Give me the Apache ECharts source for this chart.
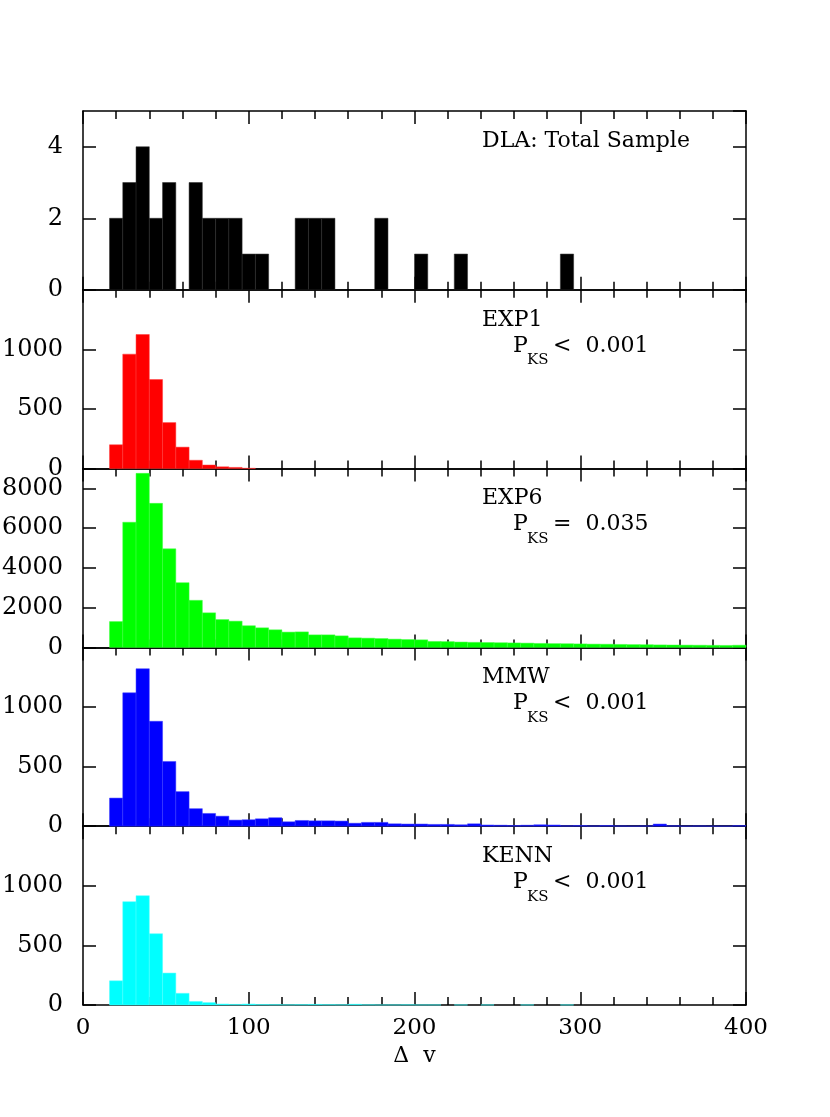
<!DOCTYPE html>
<html>
<head>
<meta charset="utf-8">
<script src="https://cdn.jsdelivr.net/npm/echarts@6/dist/echarts.min.js"></script>
<style>
html, body { margin: 0; padding: 0; background: #fff; }
#chart { width: 830px; height: 1117px; }
</style>
</head>
<body>
<div id="chart"></div>
<script>
// left edge of each 8-wide velocity bin
const binLeft = [16, 24, 32, 40, 48, 56, 64, 72, 80, 88, 96, 104, 112, 120, 128, 136,
  144, 152, 160, 168, 176, 184, 192, 200, 208, 216, 224, 232, 240, 248, 256, 264,
  272, 280, 288, 296, 304, 312, 320, 328, 336, 344, 352, 360, 368, 376, 384, 392];
const binWidth = 8;

const dlaCounts = [2, 3, 4, 2, 3, 0, 3, 2, 2, 2, 1, 1, 0, 0, 2, 2,
  2, 0, 0, 0, 2, 0, 0, 1, 0, 0, 1, 0, 0, 0, 0, 0,
  0, 0, 1, 0, 0, 0, 0, 0, 0, 0, 0, 0, 0, 0, 0, 0];
const exp1Counts = [200, 960, 1125, 747, 386, 180, 70, 30, 15, 10, 3, 0, 0, 0, 0, 0,
  0, 0, 0, 0, 0, 0, 0, 0, 0, 0, 0, 0, 0, 0, 0, 0,
  0, 0, 0, 0, 0, 0, 0, 0, 0, 0, 0, 0, 0, 0, 0, 0];
const exp6Counts = [1300, 6300, 8760, 7250, 4960, 3260, 2370, 1740, 1400, 1320, 1090, 985, 885, 770, 780, 630,
  630, 580, 480, 465, 445, 415, 395, 380, 300, 290, 270, 255, 245, 235, 225, 215,
  200, 190, 185, 175, 165, 160, 150, 140, 135, 125, 120, 115, 110, 105, 100, 110];
const mmwCounts = [236, 1119, 1321, 880, 543, 290, 147, 107, 84, 51, 54, 62, 71, 37, 48, 45,
  45, 43, 25, 32, 32, 20, 18, 18, 15, 15, 12, 20, 10, 8, 6, 8,
  12, 10, 4, 6, 3, 6, 3, 2, 3, 18, 4, 2, 3, 2, 2, 5];
const kennCounts = [203, 867, 917, 598, 268, 98, 30, 20, 8, 5, 8, 4, 3, 2, 3, 5,
  3, 2, 6, 2, 1, 1, 2, 1, 1, 0, 1, 0, 1, 0, 0, 1,
  0, 0, 1, 0, 0, 0, 0, 0, 0, 0, 0, 0, 0, 0, 0, 0];

const xTicks = [0, 100, 200, 300, 400];

const panels = [
  { label: 'DLA: Total Sample', counts: dlaCounts, color: '#000000', edge: '#2a2a2a', yMax: 5, yStep: 2, pks: null },
  { label: 'EXP1', counts: exp1Counts, color: '#ff0000', edge: '#ff3a3a', yMax: 1500, yStep: 500, pks: '<  0.001' },
  { label: 'EXP6', counts: exp6Counts, color: '#00ff00', edge: '#40ff40', yMax: 9000, yStep: 2000, pks: '=  0.035' },
  { label: 'MMW', counts: mmwCounts, color: '#0000ff', edge: '#3a3aff', yMax: 1500, yStep: 500, pks: '<  0.001' },
  { label: 'KENN', counts: kennCounts, color: '#00ffff', edge: '#50ffff', yMax: 1500, yStep: 500, pks: '<  0.001' }
];

const font = 'DejaVu Serif';
const gridLeft = 83, gridWidth = 663, gridTop = 111, panelH = 178.8;
const axisColor = '#000';

let grids = [], xAxes = [], yAxes = [], series = [], graphics = [];

panels.forEach(function (p, i) {
  const top = gridTop + i * panelH;
  grids.push({ left: gridLeft, width: gridWidth, top: top, height: panelH, outerBoundsMode: 'none' });

  // bottom and top x axes (ticks on both sides)
  ['bottom', 'top'].forEach(function (pos) {
    const isLabelled = pos === 'bottom' && i === panels.length - 1;
    xAxes.push({
      type: 'value', gridIndex: i, position: pos, min: xTicks[0], max: xTicks[xTicks.length - 1], interval: 100,
      axisLine: { show: true, onZero: false, lineStyle: { color: axisColor, width: 1.5 } },
      axisTick: { show: true, inside: true, length: 13, lineStyle: { color: axisColor, width: 1.5 } },
      minorTick: { show: true, splitNumber: 5, length: 8, lineStyle: { color: axisColor, width: 1.5 } },
      splitLine: { show: false },
      axisLabel: { show: isLabelled, color: '#000', fontFamily: font, fontSize: 23, margin: 12,
        formatter: function (v) { return String(v); } },
      name: isLabelled ? 'Δ  v' : '',
      nameLocation: 'middle', nameGap: 40,
      nameTextStyle: { color: '#000', fontFamily: font, fontSize: 22 }
    });
  });

  ['left', 'right'].forEach(function (pos) {
    yAxes.push({
      type: 'value', gridIndex: i, position: pos, min: 0, max: p.yMax, interval: p.yStep,
      axisLine: { show: true, onZero: false, lineStyle: { color: axisColor, width: 1.5 } },
      axisTick: { show: true, inside: true, length: 13, lineStyle: { color: axisColor, width: 1.5 } },
      splitLine: { show: false },
      axisLabel: { show: pos === 'left', showMaxLabel: false, color: '#000', fontFamily: font, fontSize: 24, margin: 20,
        formatter: function (v) { return String(v); } }
    });
  });

  series.push({
    type: 'custom',
    xAxisIndex: 2 * i,
    yAxisIndex: 2 * i,
    data: binLeft.map(function (x, k) { return [x, p.counts[k]]; }),
    encode: { x: 0, y: 1 },
    renderItem: function (params, api) {
      const x0 = api.value(0), v = api.value(1);
      if (!v) return null;
      const a = api.coord([x0, v]);
      const b = api.coord([x0 + binWidth, 0]);
      return {
        type: 'rect',
        shape: { x: a[0], y: a[1], width: b[0] - a[0], height: b[1] - a[1] },
        style: { fill: p.color, stroke: p.edge, lineWidth: 0.5 }
      };
    },
    z: 1
  });

  graphics.push({
    type: 'text', left: 482, top: top + 19,
    style: { text: p.label, fill: '#000', font: '22px "' + font + '"' }
  });
  if (p.pks) {
    graphics.push({
      type: 'text', left: 513, top: top + 45,
      style: { text: 'P', fill: '#000', font: '22px "' + font + '"' }
    });
    graphics.push({
      type: 'text', left: 527, top: top + 63,
      style: { text: 'KS', fill: '#000', font: '15px "' + font + '"' }
    });
    graphics.push({
      type: 'text', left: 553, top: top + 45,
      style: { text: p.pks, fill: '#000', font: '22px "' + font + '"' }
    });
  }
});

const chart = echarts.init(document.getElementById('chart'), null, { renderer: 'canvas' });
chart.setOption({
  animation: false,
  backgroundColor: '#fff',
  grid: grids,
  xAxis: xAxes,
  yAxis: yAxes,
  series: series,
  graphic: graphics
});
</script>
</body>
</html>
